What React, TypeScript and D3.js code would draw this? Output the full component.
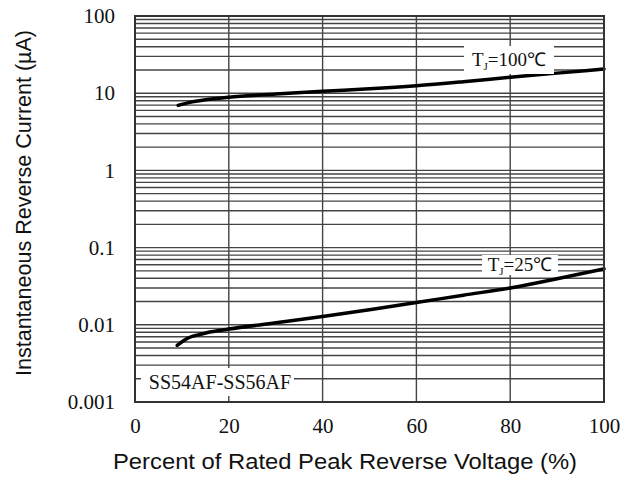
import React, { useEffect, useRef } from "react";
import * as d3 from "d3";

const xTicks = [0, 20, 40, 60, 80, 100];
const yTicks = [0.001, 0.01, 0.1, 1, 10, 100];
const yTickLabels = ["0.001", "0.01", "0.1", "1", "10", "100"];

const v100 = [9.2, 11.7, 15, 20, 30, 40, 50, 60, 70, 80, 90, 100];
const i100 = [6.95, 7.6, 8.2, 8.85, 9.75, 10.6, 11.4, 12.5, 14.1, 16.1, 18.2, 20.6];

const v25 = [9.0, 10.5, 11.7, 13.5, 15.3, 20, 30, 40, 50, 60, 70, 80, 90, 100];
const i25 = [0.0054, 0.0063, 0.0069, 0.0074, 0.0079, 0.0088, 0.0106, 0.0128, 0.0157, 0.0194, 0.0242, 0.030, 0.0395, 0.053];

const W = 621;
const H = 478;
const M = { left: 135, right: 17, top: 16, bottom: 76 };

export default function App() {
  const ref = useRef<SVGSVGElement>(null);

  useEffect(() => {
    document.body.style.margin = "0";
    const svg = d3.select(ref.current);
    svg.selectAll("*").remove();

    const x = d3.scaleLinear().domain([0, 100]).range([M.left, W - M.right]);
    const y = d3.scaleLog().domain([0.001, 100]).range([H - M.bottom, M.top]);

    const serif = "'Liberation Serif', 'Times New Roman', serif";
    const sans = "'Liberation Sans', Arial, sans-serif";
    const gridColor = "#444";

    // horizontal grid
    const minor = y.ticks();
    svg
      .append("g")
      .selectAll("line")
      .data(minor)
      .join("line")
      .attr("x1", x(0))
      .attr("x2", x(100))
      .attr("y1", (d) => y(d))
      .attr("y2", (d) => y(d))
      .attr("stroke", gridColor)
      .attr("stroke-width", 1.4);

    // vertical grid
    svg
      .append("g")
      .selectAll("line")
      .data(xTicks.slice(1, -1))
      .join("line")
      .attr("x1", (d) => x(d))
      .attr("x2", (d) => x(d))
      .attr("y1", y(100))
      .attr("y2", y(0.001))
      .attr("stroke", gridColor)
      .attr("stroke-width", 1.4);

    // curves
    const line = d3
      .line<[number, number]>()
      .x((d) => x(d[0]))
      .y((d) => y(d[1]))
      .curve(d3.curveMonotoneX);

    const s100: [number, number][] = v100.map((v, i) => [v, i100[i]]);
    const s25: [number, number][] = v25.map((v, i) => [v, i25[i]]);

    [s100, s25].forEach((s) =>
      svg
        .append("path")
        .attr("d", line(s))
        .attr("fill", "none")
        .attr("stroke", "#000")
        .attr("stroke-width", 3.5)
        .attr("stroke-linecap", "round")
    );

    // curve labels
    const addLabel = (cx: number, cy: number, w: number, h: number, main: string, rest: string) => {
      const g = svg.append("g");
      g.append("rect")
        .attr("x", cx - w / 2)
        .attr("y", cy - h / 2)
        .attr("width", w)
        .attr("height", h)
        .attr("fill", "#fff");
      const t = g
        .append("text")
        .attr("x", cx)
        .attr("y", cy + 6)
        .attr("text-anchor", "middle")
        .attr("font-family", serif)
        .attr("font-size", 19)
        .attr("fill", "#111");
      t.append("tspan").text(main);
      t.append("tspan").attr("font-size", 11).attr("dy", 4).text("J");
      t.append("tspan").attr("dy", -4).text(rest);
    };
    addLabel(509, 60, 90, 28, "T", "=100\u2103");
    addLabel(520, 265, 76, 20, "T", "=25\u2103");

    // model label
    svg
      .append("rect")
      .attr("x", 141)
      .attr("y", 368)
      .attr("width", 153)
      .attr("height", 28)
      .attr("fill", "#fff");
    svg
      .append("text")
      .attr("x", 220)
      .attr("y", 389)
      .attr("text-anchor", "middle")
      .attr("font-family", serif)
      .attr("font-size", 20)
      .attr("fill", "#111")
      .text("SS54AF-SS56AF");

    // frame
    svg
      .append("rect")
      .attr("x", x(0))
      .attr("y", y(100))
      .attr("width", x(100) - x(0))
      .attr("height", y(0.001) - y(100))
      .attr("fill", "none")
      .attr("stroke", "#333")
      .attr("stroke-width", 2);

    // axes
    const yAxis = d3
      .axisLeft(y)
      .tickValues(yTicks)
      .tickFormat((d, i) => yTickLabels[i])
      .tickSize(0)
      .tickPadding(20);
    const gy = svg.append("g").attr("transform", `translate(${x(0)},0)`).call(yAxis);
    gy.select(".domain").remove();
    gy.selectAll("text")
      .attr("font-family", serif)
      .attr("font-size", 21)
      .attr("fill", "#111");

    const xAxis = d3
      .axisBottom(x)
      .tickValues(xTicks)
      .tickFormat(d3.format("d"))
      .tickSize(0)
      .tickPadding(16);
    const gx = svg.append("g").attr("transform", `translate(0,${y(0.001)})`).call(xAxis);
    gx.select(".domain").remove();
    gx.selectAll("text")
      .attr("font-family", serif)
      .attr("font-size", 21)
      .attr("fill", "#111");

    // axis titles
    svg
      .append("text")
      .attr("x", 345)
      .attr("y", 469)
      .attr("text-anchor", "middle")
      .attr("font-family", sans)
      .attr("font-size", 22)
      .attr("textLength", 464)
      .attr("lengthAdjust", "spacingAndGlyphs")
      .attr("fill", "#111")
      .text("Percent of Rated Peak Reverse Voltage (%)");

    svg
      .append("text")
      .attr("transform", `translate(31,203) rotate(-90)`)
      .attr("text-anchor", "middle")
      .attr("font-family", sans)
      .attr("font-size", 22)
      .attr("textLength", 346)
      .attr("lengthAdjust", "spacingAndGlyphs")
      .attr("fill", "#111")
      .text("Instantaneous Reverse Current (\u00b5A)");
  }, []);

  return (
    <svg
      ref={ref}
      width={W}
      height={H}
      style={{ display: "block", position: "absolute", left: 0, top: 0, background: "#fff" }}
    />
  );
}
